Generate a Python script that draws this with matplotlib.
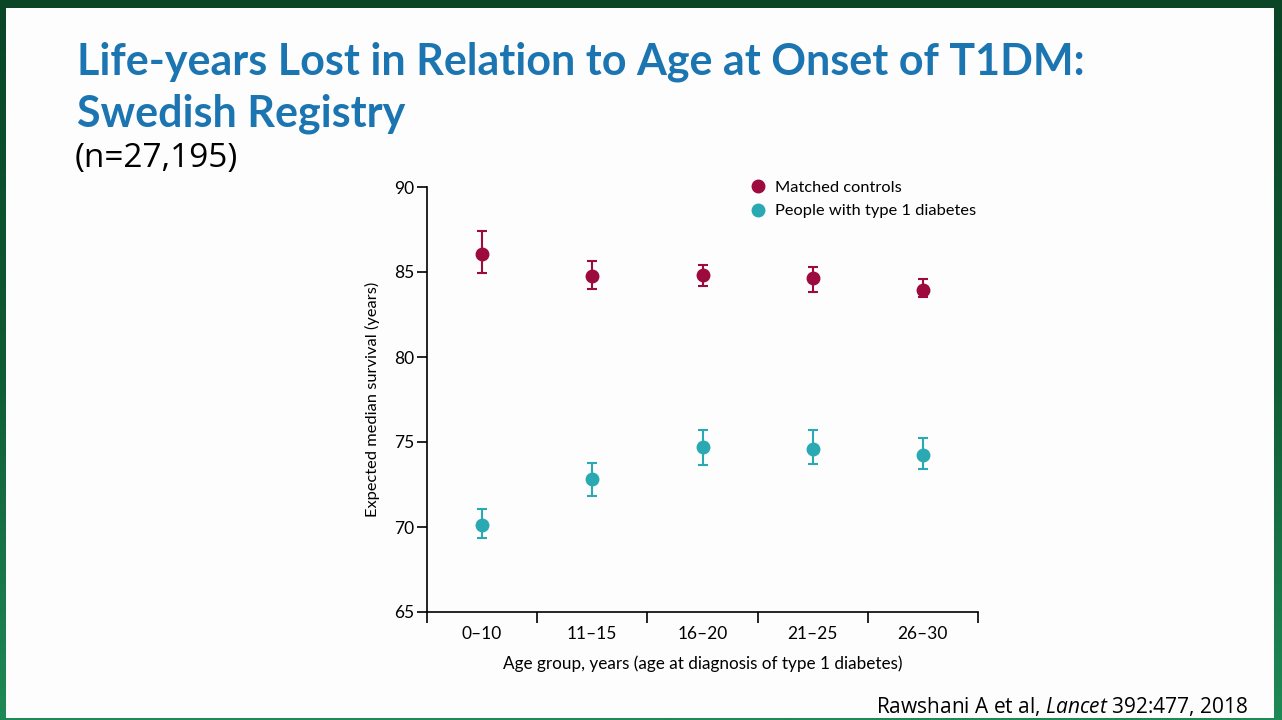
import numpy as np
import matplotlib.pyplot as plt
from matplotlib.lines import Line2D
from matplotlib.patches import Rectangle
from matplotlib.colors import LinearSegmentedColormap

# 資料
age_groups = ["0–10", "11–15", "16–20", "21–25", "26–30"]
controls_median = [86.05, 84.75, 84.8, 84.65, 83.95]
controls_low = [84.96, 83.98, 84.18, 83.84, 83.52]
controls_high = [87.42, 85.64, 85.42, 85.32, 84.6]
t1d_median = [70.1, 72.8, 74.7, 74.6, 74.25]
t1d_low = [69.35, 71.8, 73.62, 73.7, 73.42]
t1d_high = [71.04, 73.77, 75.72, 75.7, 75.25]

maroon = "#9c0a3e"
teal = "#2aa9b3"

plt.rcParams["mathtext.fontset"] = "custom"
plt.rcParams["mathtext.rm"] = "Open Sans"
plt.rcParams["mathtext.it"] = "Open Sans:italic"

fig = plt.figure(figsize=(12.82, 7.2), dpi=100)

# 綠色外框（漸層）
bg = fig.add_axes([0, 0, 1, 1], zorder=-10)
grad = np.linspace(0, 1, 256).reshape(-1, 1)
green_cmap = LinearSegmentedColormap.from_list("g", ["#0a4526", "#0f5a33", "#1f8a55"])
bg.imshow(grad, aspect="auto", cmap=green_cmap, extent=[0, 1, 0, 1])
bg.add_patch(Rectangle((6 / 1282, 2 / 720), (1274 - 6) / 1282, (712 - 2) / 720,
                       facecolor="#fdfdfd", edgecolor="none"))
bg.set_xlim(0, 1)
bg.set_ylim(0, 1)
bg.axis("off")

# 標題
fig.text(77 / 1282, 1 - 62 / 720, "Life-years Lost in Relation to Age at Onset of T1DM:",
         fontsize=31, fontweight="bold", color="#1b75b1", family="Lato", va="center")
fig.text(77 / 1282, 1 - 114 / 720, "Swedish Registry",
         fontsize=31, fontweight="bold", color="#1b75b1", family="Lato", va="center")
fig.text(75 / 1282, 1 - 158 / 720, "(n=27,195)", fontsize=24, color="black",
         family="Open Sans", va="center")

# 圖表
ax = fig.add_axes([427 / 1282, 108 / 720, 551 / 1282, 425 / 720])
ax.set_facecolor("none")
x = np.arange(len(age_groups))

ctrl_err = [np.array(controls_median) - np.array(controls_low),
            np.array(controls_high) - np.array(controls_median)]
t1d_err = [np.array(t1d_median) - np.array(t1d_low),
           np.array(t1d_high) - np.array(t1d_median)]

ax.errorbar(x, controls_median, yerr=ctrl_err, fmt="o", color=maroon, ms=9,
            elinewidth=1.5, capsize=3.5, capthick=1.5)
ax.errorbar(x, t1d_median, yerr=t1d_err, fmt="o", color=teal, ms=9,
            elinewidth=1.5, capsize=3.5, capthick=1.5)

ax.set_xlim(-0.5, len(age_groups) - 0.5)
ax.set_ylim(65, 90)
ax.set_yticks([65, 70, 75, 80, 85, 90])
ax.set_xticks(x)
ax.set_xticklabels(age_groups)
ax.set_xticks(np.arange(-0.5, len(age_groups)), minor=True)
ax.tick_params(axis="x", which="major", length=0, pad=10, labelsize=12.5)
ax.tick_params(axis="x", which="minor", length=8, width=1.2, direction="out")
ax.tick_params(axis="y", length=7, width=1.2, labelsize=12.5, pad=2)
for lab in ax.get_xticklabels() + ax.get_yticklabels():
    lab.set_family("Lato")

for s in ["top", "right"]:
    ax.spines[s].set_visible(False)
for s in ["left", "bottom"]:
    ax.spines[s].set_linewidth(1.2)

ax.set_ylabel("Expected median survival (years)", fontsize=11.8, family="Lato", labelpad=10)
ax.set_xlabel("Age group, years (age at diagnosis of type 1 diabetes)", fontsize=12.3,
              family="Lato", labelpad=10)

handles = [Line2D([], [], marker="o", ls="none", color=maroon, ms=9),
           Line2D([], [], marker="o", ls="none", color=teal, ms=9)]
ax.legend(handles, ["Matched controls", "People with type 1 diabetes"],
          loc="upper left", bbox_to_anchor=(0.545, 1.05), frameon=False,
          handletextpad=0.0, labelspacing=0.55, prop={"family": "Lato", "size": 11.8})

# 引用
fig.text(1248 / 1282, 1 - 706 / 720, "Rawshani A et al, $\\it{Lancet}$ 392:477, 2018",
         ha="right", va="center", fontsize=15, family="Open Sans")

fig.savefig("out.png", dpi=100)
